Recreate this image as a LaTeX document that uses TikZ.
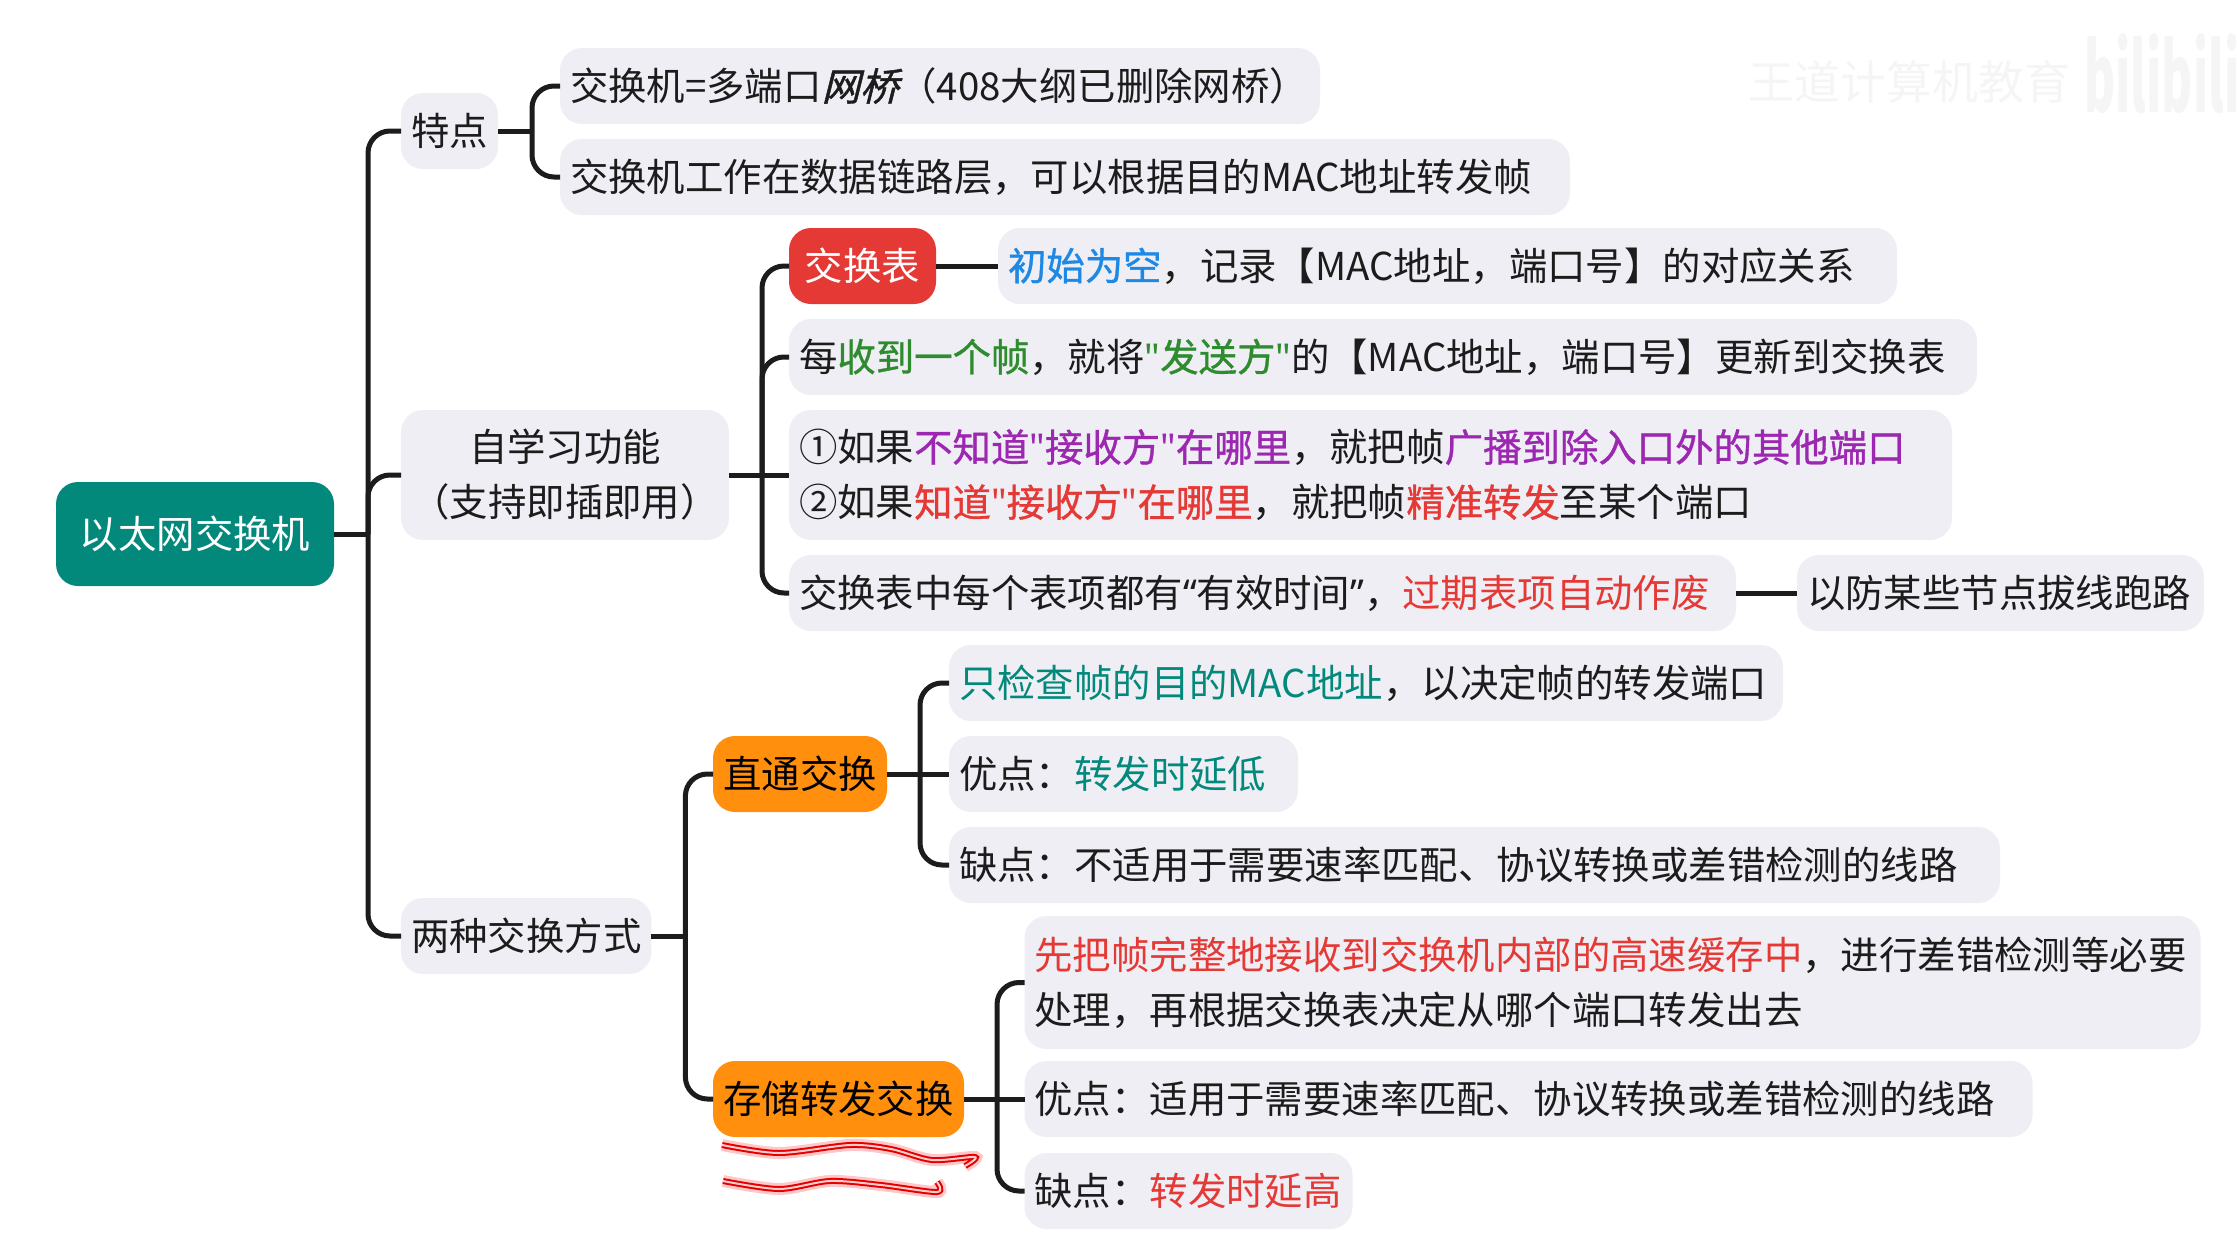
\documentclass[tikz,border=0pt]{standalone}
\usepackage{fontspec}
\setmainfont{Noto Sans CJK SC}
\newfontfamily\strongfont{Noto Sans CJK SC}[FakeBold=0.9]
\newfontfamily\slantfont{Noto Sans CJK SC}[FakeSlant=0.25, FakeBold=1.2]
\newfontfamily\qfont{Noto Sans}
\usetikzlibrary{positioning,calc}
\definecolor{mmgray}{HTML}{EEEEF4}
\definecolor{mmink}{HTML}{1C1C1C}
\definecolor{mmteal}{HTML}{03897B}
\definecolor{mmred}{HTML}{E53935}
\definecolor{mmorange}{HTML}{FF8F0D}
\definecolor{mmblue}{HTML}{1E88E5}
\definecolor{mmgreen}{HTML}{2E8B2E}
\definecolor{mmpurple}{HTML}{9C27B0}
\definecolor{mmmark}{HTML}{F5F5F5}
\newcommand{\hl}[2]{\textcolor{#1}{\strongfont #2}}
\newcommand{\dq}{{\qfont\bfseries"}}

\begin{document}
\begin{tikzpicture}[
  x=1pt, y=-1pt,
  font=\fontsize{38.4}{55}\selectfont,
  pill/.style={fill=mmgray, text=mmink, rounded corners=22pt, outer sep=0pt,
    inner xsep=10pt, inner ysep=0pt, minimum height=76pt, align=center},
  leaf/.style={pill, text width=#1-20pt, align=left},
  hub/.style={pill, fill=mmorange, text=black},
  link/.style={draw=mmink, line width=5pt},
  elbow/.style={link, rounded corners=22pt},
  scribble/.style={line cap=round, line join=round,
    preaction={draw=red, opacity=0.22, line width=12pt},
    preaction={draw=red!90!black, line width=6pt},
    draw=red!20, line width=2pt}
]
\useasboundingbox (0,0) rectangle (2237,1255);
\node[font=\fontsize{46}{54}\selectfont, text=mmmark, anchor=west] (mark) at (1745,82) {王道计算机教育};
\node[font=\fontsize{95}{100}\selectfont\bfseries, text=mmmark, anchor=west, inner sep=0pt] (bili) at (2084,74) {\scalebox{0.5}[1]{bilibili}};

\node[pill, fill=mmteal, text=white, minimum width=278pt, minimum height=104pt, anchor=west] (root) at (56,534) {以太网交换机};
\node[pill, minimum width=97pt, anchor=west] (features) at (401,131) {特点};
\node[pill, minimum width=328pt, minimum height=130pt, anchor=west] (learning) at (401,475) {自学习功能\\（支持即插即用）};
\node[pill, minimum width=250pt, anchor=west] (modes) at (401,936) {两种交换方式};

\node[leaf=760, anchor=west] (ports) at (560,86) {交换机=多端口{\slantfont 网桥}（408大纲已删除网桥）};
\node[leaf=1010, below=15pt of ports.south west, anchor=north west] (layer)
  {交换机工作在数据链路层，可以根据目的MAC地址转发帧};

\node[pill, fill=mmred, text=white, minimum width=147pt, anchor=west] (table) at (789,266) {交换表};
\node[leaf=899, right=62pt of table] (empty)
  {\hl{mmblue}{初始为空}，记录【MAC地址，端口号】的对应关系};
\node[leaf=1188, below=15pt of table.south west, anchor=north west] (update)
  {每\hl{mmgreen}{收到一个帧}，就将\hl{mmgreen}{\dq 发送方\dq}的【MAC地址，端口号】更新到交换表};
\node[leaf=1163, minimum height=130pt, below=15pt of update.south west, anchor=north west] (forward)
  {①如果\hl{mmpurple}{不知道\dq 接收方\dq 在哪里}，就把帧\hl{mmpurple}{广播到除入口外的其他端口}\\
   ②如果\hl{mmred}{知道\dq 接收方\dq 在哪里}，就把帧\hl{mmred}{精准转发}至某个端口};
\node[leaf=947, below=15pt of forward.south west, anchor=north west] (expire)
  {交换表中每个表项都有{\qfont “}有效时间{\qfont ”}，\textcolor{mmred}{过期表项自动作废}};
\node[leaf=407, right=61pt of expire] (unplug) {以防某些节点拔线跑路};

\node[hub, minimum width=174pt, anchor=west] (direct) at (713,774) {直通交换};
\node[leaf=349, right=62pt of direct] (dgood) {优点：\textcolor{mmteal}{转发时延低}};
\node[leaf=834, above=15pt of dgood.north west, anchor=south west] (dcheck)
  {\textcolor{mmteal}{只检查帧的目的MAC地址}，以决定帧的转发端口};
\node[leaf=1051, below=15pt of dgood.south west, anchor=north west] (dbad)
  {缺点：不适用于需要速率匹配、协议转换或差错检测的线路};

\node[hub, minimum width=251pt, anchor=west] (store) at (713,1099) {存储转发交换};
\node[leaf=1008, right=60.5pt of store] (sgood)
  {优点：适用于需要速率匹配、协议转换或差错检测的线路};
\node[leaf=1176, minimum height=133pt, above=12pt of sgood.north west, anchor=south west] (sfirst)
  {\textcolor{mmred}{先把帧完整地接收到交换机内部的高速缓存中}，进行差错检测等必要\\处理，再根据交换表决定从哪个端口转发出去};
\node[leaf=328, below=16pt of sgood.south west, anchor=north west] (sbad)
  {缺点：\textcolor{mmred}{转发时延高}};

\coordinate (rootbus) at ([xshift=34pt]root.east);
\coordinate (featbus) at ([xshift=34pt]features.east);
\coordinate (learnbus) at ([xshift=33pt]learning.east);
\coordinate (modebus) at ([xshift=34pt]modes.east);
\coordinate (directbus) at ([xshift=33pt]direct.east);
\coordinate (storebus) at ([xshift=33pt]store.east);

\draw[link] (root.east) -- (rootbus);
\draw[link] (features.east) -- (featbus);
\draw[link] (learning.east) -- (learning.east -| forward.west);
\draw[link] (modes.east) -- (modebus);
\draw[link] (direct.east) -- (dgood.west);
\draw[link] (store.east) -- (sgood.west);
\draw[link] (table) -- (empty);
\draw[link] (expire) -- (unplug);

\foreach \kid in {features,learning,modes}
  \draw[elbow] (rootbus) |- (\kid.west);
\foreach \kid in {ports,layer}
  \draw[elbow] (featbus) |- (\kid.west);
\foreach \kid in {table,update,expire}
  \draw[elbow] (learnbus) |- (\kid.west);
\foreach \kid in {direct,store}
  \draw[elbow] (modebus) |- (\kid.west);
\foreach \kid in {dcheck,dbad}
  \draw[elbow] (directbus) |- (\kid.west);
\foreach \kid in {sfirst,sbad}
  \draw[elbow] (storebus) |- (\kid.west);

\draw[scribble] plot[smooth] coordinates {(722,1145) (779,1153) (850,1145) (891,1149) (932,1160) (975,1157) (965,1166)};
\draw[scribble] plot[smooth] coordinates {(723,1181) (779,1189) (830,1181) (881,1185) (937,1192) (937,1182)};
\end{tikzpicture}
\end{document}
